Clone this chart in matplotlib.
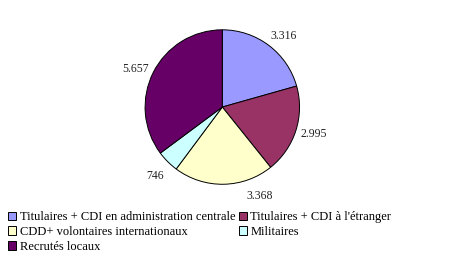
import matplotlib
matplotlib.use("Agg")
import matplotlib.pyplot as plt
from matplotlib.patches import Patch
import numpy as np

categories = ["Titulaires + CDI en administration centrale",
              "Titulaires + CDI à l'étranger",
              "CDD+ volontaires internationaux",
              "Militaires",
              "Recrutés locaux"]
values = [3316, 2995, 3368, 746, 5657]
value_labels = ["3.316", "2.995", "3.368", "746", "5.657"]
colors = ["#9999FF", "#993366", "#FFFFCC", "#CCFFFF", "#660066"]

plt.rcParams['font.family'] = ['Liberation Serif', 'DejaVu Serif']

fig = plt.figure(figsize=(4.74, 2.57), dpi=100)
ax = fig.add_axes([0.306, 0.283, 0.326, 0.601])
wedges, _ = ax.pie(values, colors=colors, startangle=90, counterclock=False,
                   wedgeprops=dict(edgecolor="black", linewidth=0.7))
ax.set_xlim(-1, 1)
ax.set_ylim(-1, 1)
ax.set_aspect('equal')

# label placement (best-fit like): distance and angular nudge per label
label_dist = 1.23
angle_nudge = [-3, 2, 22, 0, 2]
for w, lab, nudge in zip(wedges, value_labels, angle_nudge):
    ang = np.deg2rad((w.theta1 + w.theta2) / 2 + nudge)
    ax.text(label_dist * np.cos(ang), label_dist * np.sin(ang) - 0.02, lab,
            ha="center", va="center", fontsize=8.5, color="#222222", clip_on=False)

order = [0, 2, 4, 1, 3]
handles = [Patch(facecolor=colors[i], edgecolor="black", linewidth=0.7) for i in order]
labels = [categories[i] for i in order]
fig.legend(handles, labels, loc="upper left", bbox_to_anchor=(0.017, 0.178),
           ncol=2, frameon=False, fontsize=9, handlelength=0.65, handleheight=0.65,
           handletextpad=0.3, columnspacing=0.25, labelspacing=0.22, borderaxespad=0,
           borderpad=0)
fig.savefig("out.png", dpi=100)
